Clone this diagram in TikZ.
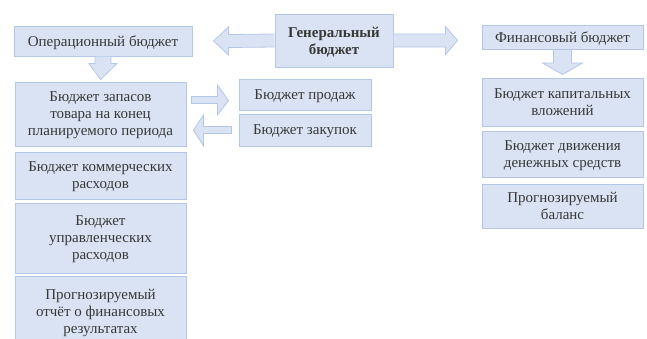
\documentclass[tikz,border=0pt]{standalone}
\usepackage{fontspec}
\setmainfont{Liberation Serif}
\newfontfamily\budgetfont{Liberation Serif}
\usetikzlibrary{calc}
\definecolor{boxfill}{HTML}{DAE3F3}
\definecolor{boxline}{HTML}{B4C7E7}
\definecolor{boxtext}{HTML}{383838}
\tikzset{
    budget/.style={fill=boxfill, draw=boxline, line width=1pt, text=boxtext, text depth=0pt,
        align=center, inner sep=1pt, font=\budgetfont\fontsize{15}{17}\selectfont},
    barrow/.style={fill=boxfill, draw=boxline, line width=0.8pt, line join=miter},
    x=1pt, y=-1pt
}

\begin{document}
\begin{tikzpicture}
\useasboundingbox (0,0) rectangle (647,338);
% general budget
\node[budget, minimum width=118, minimum height=53, font=\budgetfont\fontsize{15}{17}\selectfont\bfseries] (gen) at (334,40.5) {Генеральный\\бюджет};
\node[budget, minimum width=178, minimum height=30] (op) at (103,41) {Операционный бюджет};
\node[budget, minimum width=161, minimum height=24] (fin) at (562.5,37.5) {Финансовый бюджет};

% operational column
\node[budget, minimum width=171, minimum height=64] (zap) at (100.5,114) {Бюджет запасов\\товара на конец\\планируемого периода};
\node[budget, minimum width=171, minimum height=47] (kom) at (100.5,175.5) {Бюджет коммерческих\\расходов};
\node[budget, minimum width=171, minimum height=70] (upr) at (100.5,238) {Бюджет\\управленческих\\расходов};
\node[budget, minimum width=171, minimum height=70] (otch) at (100.5,311) {Прогнозируемый\\отчёт о финансовых\\результатах};
\node[budget, minimum width=132, minimum height=31] (prod) at (305,94.5) {Бюджет продаж};
\node[budget, minimum width=132, minimum height=32] (zak) at (305,130) {Бюджет закупок};

% financial column
\node[budget, minimum width=161, minimum height=48] (kap) at (562.5,102) {Бюджет капитальных\\вложений};
\node[budget, minimum width=161, minimum height=46] (dvi) at (562.5,154) {Бюджет движения\\денежных средств};
\node[budget, minimum width=161, minimum height=44] (bal) at (562.5,206) {Прогнозируемый\\баланс};

% block arrows
\draw[barrow] ($(gen.west)+(0,-6.5)$) -- ($(op.east)+(36,-6.5)$) -- ($(op.east)+(36,-14)$)
    -- ($(op.east)+(21,0)$) -- ($(op.east)+(36,14)$) -- ($(op.east)+(36,6.5)$) -- ($(gen.west)+(0,6.5)$);
\draw[barrow] ($(gen.east)+(0,-6.5)$) -- ($(gen.east)+(52,-6.5)$) -- ($(gen.east)+(52,-14)$)
    -- ($(gen.east)+(64,0)$) -- ($(gen.east)+(52,14)$) -- ($(gen.east)+(52,6.5)$) -- ($(gen.east)+(0,6.5)$);
\draw[barrow] ($(op.south)+(-8,0)$) -- ($(op.south)+(-8,7)$) -- ($(op.south)+(-14,7)$)
    -- ($(zap.north)+(0,-2)$) -- ($(op.south)+(14,7)$) -- ($(op.south)+(8,7)$) -- ($(op.south)+(8,0)$);
\draw[barrow] ($(fin.south)+(-9,0)$) -- ($(fin.south)+(-9,13)$) -- ($(fin.south)+(-20,13)$)
    -- ($(kap.north)+(0,-3)$) -- ($(fin.south)+(20,13)$) -- ($(fin.south)+(9,13)$) -- ($(fin.south)+(9,0)$);
\draw[barrow] ($(zap.east)+(5,-17.5)$) -- ($(zap.east)+(31,-17.5)$) -- ($(zap.east)+(31,-29)$)
    -- ($(prod.west)+(-10,6)$) -- ($(zap.east)+(31,1)$) -- ($(zap.east)+(31,-10.5)$) -- ($(zap.east)+(5,-10.5)$) -- cycle;
\draw[barrow] ($(zak.west)+(-7,-3.5)$) -- ($(zap.east)+(17,12.5)$) -- ($(zap.east)+(17,1)$)
    -- ($(zap.east)+(7,16)$) -- ($(zap.east)+(17,32)$) -- ($(zap.east)+(17,19.5)$) -- ($(zak.west)+(-7,3.5)$) -- cycle;
\end{tikzpicture}
\end{document}
